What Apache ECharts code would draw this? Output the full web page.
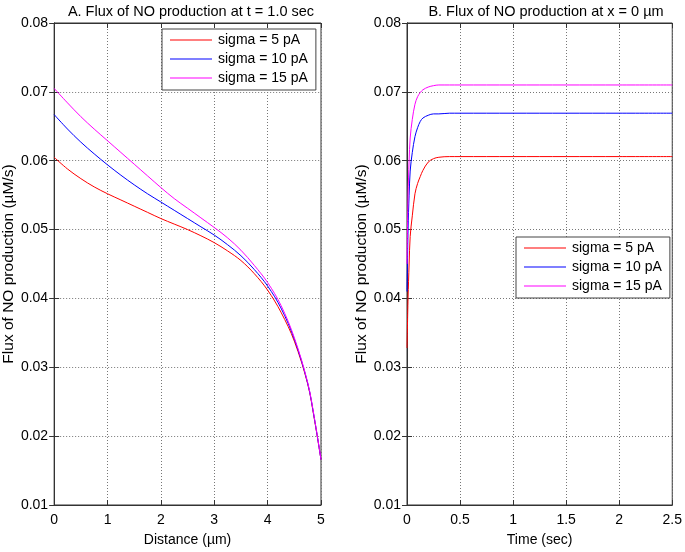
<!DOCTYPE html>
<html>
<head>
<meta charset="utf-8">
<script src="https://cdn.jsdelivr.net/npm/echarts@6/dist/echarts.min.js"></script>
<style>html,body{margin:0;padding:0;background:#fff;}#c{width:685px;height:552px;}</style>
</head>
<body>
<div id="c"></div>
<script>
// Panel A: flux vs distance at t = 1.0 sec
const distance = [0, 0.25, 0.5, 0.75, 1.0, 1.25, 1.5, 1.75, 2.0, 2.25, 2.5, 2.75, 3.0, 3.25, 3.5, 3.75, 4.0, 4.25, 4.5, 4.75, 4.875, 5.0];
const fluxA_s5  = [0.0605, 0.0588, 0.0574, 0.0562, 0.0552, 0.0543, 0.0534, 0.0525, 0.0516, 0.0508, 0.0500, 0.0491, 0.0481, 0.0469, 0.0455, 0.0436, 0.0412, 0.0380, 0.0338, 0.0276, 0.0225, 0.0166];
const fluxA_s10 = [0.0667, 0.0646, 0.0627, 0.0610, 0.0594, 0.0579, 0.0565, 0.0552, 0.0540, 0.0528, 0.0516, 0.0504, 0.0492, 0.0478, 0.0462, 0.0442, 0.0418, 0.0386, 0.0341, 0.0277, 0.0226, 0.0166];
const fluxA_s15 = [0.0705, 0.0684, 0.0664, 0.0646, 0.0629, 0.0612, 0.0595, 0.0578, 0.0561, 0.0545, 0.0531, 0.0517, 0.0503, 0.0488, 0.0470, 0.0448, 0.0423, 0.0390, 0.0343, 0.0278, 0.0227, 0.0166];

// Panel B: flux vs time at x = 0 um
const time = [0, 0.01, 0.02, 0.03, 0.05, 0.075, 0.1, 0.125, 0.15, 0.2, 0.25, 0.3, 0.4, 0.5, 1.0, 1.5, 2.0, 2.5];
const fluxB_s5  = [0.0328, 0.0400, 0.0450, 0.0490, 0.0520, 0.0552, 0.0567, 0.0577, 0.0586, 0.0598, 0.0603, 0.0605, 0.0606, 0.0606, 0.0606, 0.0606, 0.0606, 0.0606];
const fluxB_s10 = [0.0410, 0.0500, 0.0550, 0.0585, 0.0612, 0.0635, 0.0648, 0.0657, 0.0662, 0.0666, 0.0668, 0.0668, 0.0669, 0.0669, 0.0669, 0.0669, 0.0669, 0.0669];
const fluxB_s15 = [0.0450, 0.0550, 0.0600, 0.0633, 0.0660, 0.0682, 0.0693, 0.0699, 0.0703, 0.0707, 0.0709, 0.0710, 0.0710, 0.0710, 0.0710, 0.0710, 0.0710, 0.0710];

const seriesNames = ['sigma = 5 pA', 'sigma = 10 pA', 'sigma = 15 pA'];
const seriesColors = ['#ff0000', '#0000ff', '#ff00ff'];
const xTicksA = [0, 1, 2, 3, 4, 5];
const xTicksB = [0, 0.5, 1, 1.5, 2, 2.5];
const yTicks = [0.01, 0.02, 0.03, 0.04, 0.05, 0.06, 0.07, 0.08];

const pair = (xs, ys) => xs.map((x, i) => [x, ys[i]]);
const FONT = 'Liberation Sans, Arial, sans-serif';
const gridLine = { show: true, lineStyle: { color: '#777', type: [1, 2], width: 1 } };
const axLine = { show: true, lineStyle: { color: '#333', width: 1 } };
const inTick = { show: true, inside: true, length: 5, lineStyle: { color: '#333' } };
const lbl = { color: '#000', fontSize: 14, fontFamily: FONT };

function xAx(grid, ticks, name, pos) {
  const main = pos === 'bottom';
  return {
    type: 'value', gridIndex: grid, position: pos,
    min: ticks[0], max: ticks[ticks.length - 1], interval: ticks[1] - ticks[0],
    name: main ? name : '', nameLocation: 'middle', nameGap: 28,
    nameTextStyle: { color: '#000', fontSize: 14, fontFamily: FONT },
    axisLine: axLine, axisTick: inTick,
    axisLabel: main ? Object.assign({ margin: 8, formatter: v => String(v) }, lbl) : { show: false },
    splitLine: main ? gridLine : { show: false }
  };
}
function yAx(grid, pos) {
  const main = pos === 'left';
  return {
    type: 'value', gridIndex: grid, position: pos,
    min: yTicks[0], max: yTicks[yTicks.length - 1], interval: 0.01,
    name: main ? 'Flux of NO production (\u00b5M/s)' : '', nameLocation: 'middle', nameGap: 37,
    nameTextStyle: { color: '#000', fontSize: 15.5, fontFamily: FONT, padding: [0, 0, 0, 0] },
    axisLine: axLine, axisTick: inTick,
    axisLabel: main ? Object.assign({ margin: 6, formatter: v => v.toFixed(2) }, lbl) : { show: false },
    splitLine: main ? gridLine : { show: false }
  };
}
function lineSeries(i, xi, yi, data) {
  return {
    type: 'line', name: seriesNames[i], xAxisIndex: xi, yAxisIndex: yi,
    data: data, showSymbol: false, symbol: 'none', smooth: 0.35,
    lineStyle: { color: seriesColors[i], width: 1 }, itemStyle: { color: seriesColors[i] },
    z: 3
  };
}
const legendBase = {
  orient: 'vertical', icon: 'rect', itemWidth: 42, itemHeight: 1, itemGap: 5,
  padding: [4, 8, 5, 8], backgroundColor: '#fff', borderColor: '#444', borderWidth: 1,
  textStyle: { color: '#000', fontSize: 14, fontFamily: FONT, lineHeight: 14, padding: [0, 0, 0, 1] }, selectedMode: false,
  data: seriesNames.map(n => ({ name: n }))
};

const chart = echarts.init(document.getElementById('c'));
chart.setOption({
  animation: false,
  backgroundColor: '#fff',
  title: [
    { text: 'A. Flux of NO production at t = 1.0 sec', left: 186, top: -1, textAlign: 'center',
      textStyle: { color: '#000', fontSize: 14.5, fontWeight: 'normal', fontFamily: FONT } },
    { text: 'B. Flux of NO production at x = 0 \u00b5m', left: 541, top: -1, textAlign: 'center',
      textStyle: { color: '#000', fontSize: 14.5, fontWeight: 'normal', fontFamily: FONT } }
  ],
  grid: [
    { left: 52, top: 23, width: 269, height: 490, show: true, borderColor: '#333', borderWidth: 1, backgroundColor: 'transparent' },
    { left: 407, top: 23, width: 269, height: 490, show: true, borderColor: '#333', borderWidth: 1, backgroundColor: 'transparent' }
  ],
  xAxis: [xAx(0, xTicksA, 'Distance (\u00b5m)', 'bottom'), xAx(1, xTicksB, 'Time (sec)', 'bottom'),
          xAx(0, xTicksA, '', 'top'), xAx(1, xTicksB, '', 'top')],
  yAxis: [yAx(0, 'left'), yAx(1, 'left'), yAx(0, 'right'), yAx(1, 'right')],
  legend: [
    Object.assign({ left: 162, top: 29 }, legendBase),
    Object.assign({ left: 516, top: 237 }, legendBase)
  ],
  series: [
    lineSeries(0, 0, 0, pair(distance, fluxA_s5)),
    lineSeries(1, 0, 0, pair(distance, fluxA_s10)),
    lineSeries(2, 0, 0, pair(distance, fluxA_s15)),
    lineSeries(0, 1, 1, pair(time, fluxB_s5)),
    lineSeries(1, 1, 1, pair(time, fluxB_s10)),
    lineSeries(2, 1, 1, pair(time, fluxB_s15))
  ]
});
</script>
</body>
</html>
